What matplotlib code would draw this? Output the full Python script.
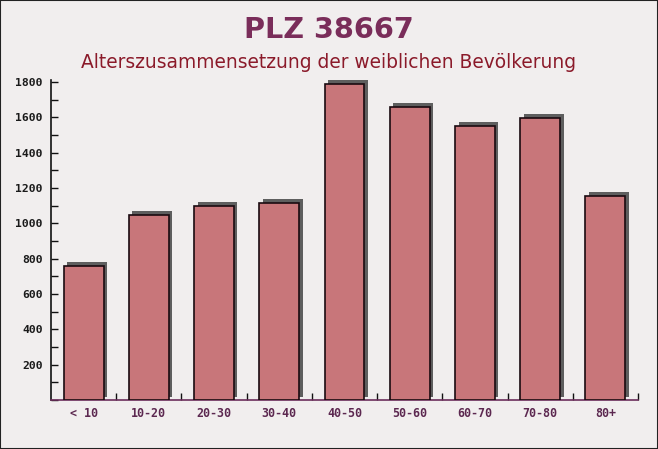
import matplotlib
matplotlib.use("Agg")
import matplotlib.pyplot as plt
from matplotlib import patheffects as pe
from matplotlib.ticker import MultipleLocator, FixedLocator

categories = ["< 10", "10-20", "20-30", "30-40", "40-50", "50-60", "60-70", "70-80", "80+"]
values = [760, 1049, 1100, 1117, 1792, 1660, 1553, 1599, 1157]
yticks = [200, 400, 600, 800, 1000, 1200, 1400, 1600, 1800]

W, H = 658, 449
fig = plt.figure(figsize=(W / 100, H / 100), dpi=100)
fig.patch.set_facecolor("#f1eeee")

ax = fig.add_axes([51 / W, 49 / H, 587 / W, 320 / H])
ax.set_facecolor("none")

x = list(range(len(categories)))
bars = ax.bar(x, values, width=0.61, color="#c8767a", edgecolor="#1a0a10",
              linewidth=1.2, zorder=3)
for b in bars:
    b.set_path_effects([pe.SimplePatchShadow(offset=(2.5, 2.5), shadow_rgbFace="#5e5e5e", alpha=1.0),
                        pe.Normal()])

ax.set_xlim(-0.5, len(categories) - 0.5)
ax.set_ylim(0, 1812)

for s in ["top", "right"]:
    ax.spines[s].set_visible(False)
ax.spines["left"].set_color("#111111")
ax.spines["bottom"].set_color("#6b2d5b")
ax.spines["left"].set_linewidth(1.2)
ax.spines["bottom"].set_linewidth(1.2)

ax.set_yticks(yticks)
ax.yaxis.set_minor_locator(MultipleLocator(100))
ax.tick_params(axis="y", which="both", direction="in", length=5, width=1, color="#111111",
               pad=6, labelsize=8.2, labelcolor="#1a1a1a")
ax.set_xticks(x)
ax.set_xticklabels(categories)
ax.xaxis.set_minor_locator(FixedLocator([i + 0.5 for i in range(len(categories))]))
ax.tick_params(axis="x", which="major", length=0, pad=5, labelsize=8.4, labelcolor="#5c2850")
ax.tick_params(axis="x", which="minor", direction="in", length=5, width=1, color="#111111")
for lbl in ax.get_xticklabels() + ax.get_yticklabels():
    lbl.set_fontfamily("DejaVu Sans Mono")
    lbl.set_fontweight("bold")

fig.text(0.5, 1 - 30 / H, "PLZ 38667", ha="center", va="center", fontsize=20.7,
         fontweight="bold", color="#7a2d5a", family="DejaVu Sans")
fig.text(0.5, 1 - 62 / H, "Alterszusammensetzung der weiblichen Bevölkerung", ha="center",
         va="center", fontsize=13.4, color="#8b1a2a", family="DejaVu Sans")

border = plt.Rectangle((0, 0), 1, 1, transform=fig.transFigure, fill=False,
                       edgecolor="#222222", linewidth=1.5)
fig.add_artist(border)

fig.savefig("out.png", dpi=100, facecolor=fig.get_facecolor())
